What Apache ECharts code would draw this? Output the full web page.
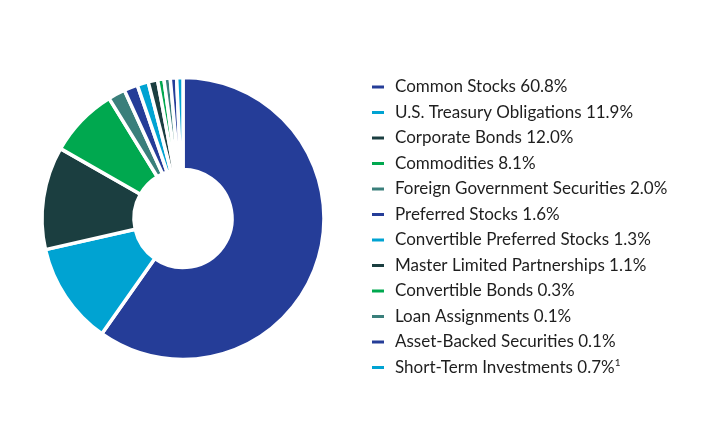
<!DOCTYPE html>
<html><head><meta charset="utf-8">
<script src="https://cdn.jsdelivr.net/npm/echarts@6/dist/echarts.min.js"></script>
<style>html,body{margin:0;padding:0;background:#fff}#c{width:708px;height:448px}</style>
</head><body><div id="c"></div>
<script>
var categories = ["Common Stocks","U.S. Treasury Obligations","Corporate Bonds","Commodities","Foreign Government Securities","Preferred Stocks","Convertible Preferred Stocks","Master Limited Partnerships","Convertible Bonds","Loan Assignments","Asset-Backed Securities","Short-Term Investments"];
var values = [60.8,11.9,12.0,8.1,2.0,1.6,1.3,1.1,0.3,0.1,0.1,0.7];
var footnotes = ["","","","","","","","","","","","1"];
var colors = ["#253d98","#00a3d2","#1b3e40","#00a84f","#3a7f7b","#253d98","#00a3d2","#1b3e40","#00a84f","#3a7f7b","#253d98","#00a3d2"];

var data = categories.map(function(n,i){return {name:n,value:values[i],itemStyle:{color:colors[i]}};});
var chart = echarts.init(document.getElementById('c'));
chart.setOption({
  animation:false,
  legend:{
    orient:'vertical', left:370, top:77, padding:0,
    icon:'rect', itemWidth:14, itemHeight:5, itemGap:5.5,
    selectedMode:false,
    textStyle:{fontFamily:'Lato', fontSize:17, color:'#1e1e1e', lineHeight:20, padding:[0,0,0,5],
      rich:{sup:{fontFamily:'Lato',fontSize:10,color:'#1e1e1e',lineHeight:20, padding:[0,0,9,0]}}},
    formatter:function(name){
      var i = categories.indexOf(name);
      var s = name + ' ' + values[i].toFixed(1) + '%';
      if (footnotes[i]) s += '{sup|' + footnotes[i] + '}';
      return s;
    }
  },
  series:[{
    type:'pie', center:[183,218.5], radius:[49,141], startAngle:90, clockwise:true,
    minAngle:2.6,
    label:{show:false}, labelLine:{show:false}, silent:true,
    itemStyle:{borderColor:'#fff', borderWidth:3.5},
    data:data
  }]
});
</script></body></html>
